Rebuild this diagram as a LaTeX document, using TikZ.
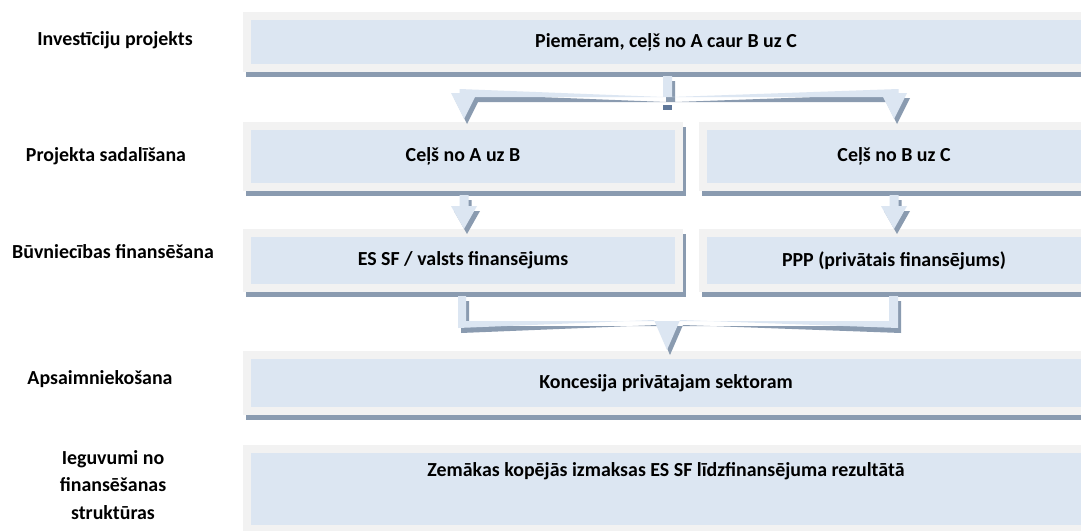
\documentclass[tikz,border=0pt]{standalone}
\usepackage{fontspec}
\setmainfont{Carlito}
\usetikzlibrary{shadows,calc}

\definecolor{framegray}{HTML}{F2F2F2}
\definecolor{boxblue}{HTML}{DCE6F2}
\definecolor{shade}{HTML}{8A9BB0}
\definecolor{joint}{HTML}{60789A}

\tikzset{
  stage/.style={rectangle, fill=boxblue, draw=framegray, line width=8pt,
    general shadow={fill=shade, draw=shade, line width=8pt,
      shadow xshift=3pt, shadow yshift=-5pt},
    align=center, text=black, inner sep=0pt},
  flat/.style={rectangle, fill=boxblue, draw=framegray, line width=8pt, inner sep=0pt},
  sidelabel/.style={align=center, text=black, inner sep=0pt},
  boxtext/.style={align=center, text=black, inner sep=0pt},
  arrowfill/.style={fill=boxblue,
    preaction={fill=shade, transform canvas={shift={(3pt,-5pt)}}}},
}

\begin{document}
\begin{tikzpicture}[x=1pt, y=-1pt,
  font=\bfseries\fontsize{19.9}{27.5}\selectfont]
\useasboundingbox (0,0) rectangle (1081,530);
\fill[white] (0,0) rectangle (1081,530);

% level captions on the left
\node[sidelabel] (l1) at (115,40)  {Investīciju projekts};
\node[sidelabel] (l2) at (106,156) {Projekta sadalīšana};
\node[sidelabel] (l3) at (113,252) {Būvniecības finansēšana};
\node[sidelabel] (l4) at (100,379) {Apsaimniekošana};
\node[sidelabel] (l5) at (113,485) {Ieguvumi no\\finansēšanas\\struktūras};

% stage boxes
\node[stage, minimum width=838, minimum height=52] (proj) at (666,42)
  {Piemēram, ceļš no A caur B uz C};
\node[stage, minimum width=432, minimum height=61] (partA) at (463,156.5)
  {Ceļš no A uz B};
\node[stage, minimum width=382, minimum height=61] (partB) at (894,156.5)
  {Ceļš no B uz C};
\node[stage, minimum width=432, minimum height=55] (finA) at (463,260.5)
  {ES SF / valsts finansējums};
\node[stage, minimum width=382, minimum height=55] (finB) at (894,260.5)
  {PPP (privātais finansējums)};
\node[stage, minimum width=838, minimum height=56] (ops) at (666,383)
  {Koncesija privātajam sektoram};
\node[flat, minimum width=838, minimum height=80] (gain) at (666,489) {};
\node[boxtext] (gaintext) at (666,471)
  {Zemākas kopējās izmaksas ES SF līdzfinansējuma rezultātā};

% split arrow: project -> both parts
\coordinate (A0) at ($(proj.south)+(1.5,0)$);
\coordinate (AL) at ($(partA.north)+(1,-3)$);
\coordinate (AR) at ($(partB.north)+(0,-3)$);
\fill[arrowfill]
  ($(A0)+(-4.5,4)$) -- ($(A0)+(-4.5,25)$) -- ($(AL)+(-4.5,-30)$)
  -- ($(AL)+(-4.5,-26)$) -- ($(AL)+(-13,-26)$) -- (AL)
  -- ($(AL)+(13,-26)$) -- ($(AL)+(4.5,-26)$) -- ($(AL)+(4.5,-22)$)
  -- ($(AR)+(-4.5,-22)$) -- ($(AR)+(-4.5,-26)$) -- ($(AR)+(-13,-26)$)
  -- (AR) -- ($(AR)+(13,-26)$) -- ($(AR)+(4.5,-26)$) -- ($(AR)+(4.5,-30)$)
  -- ($(A0)+(4.5,25)$) -- ($(A0)+(4.5,4)$) -- cycle;
\fill[joint] ($(A0)+(-4.5,33)$) rectangle ($(A0)+(4.5,38)$);

% part A -> financing A
\coordinate (B0) at ($(partA.south)+(1,4)$);
\coordinate (B1) at ($(finA.north)+(1,0)$);
\fill[arrowfill]
  ($(B0)+(-4.5,0)$) -- ($(B1)+(-4.5,-23)$) -- ($(B1)+(-13,-23)$) -- (B1)
  -- ($(B1)+(13,-23)$) -- ($(B1)+(4.5,-23)$) -- ($(B0)+(4.5,0)$) -- cycle;

% part B -> financing B
\coordinate (C0) at ($(partB.south)+(0,4)$);
\coordinate (C1) at ($(finB.north)+(0,0)$);
\fill[arrowfill]
  ($(C0)+(-4.5,0)$) -- ($(C1)+(-4.5,-23)$) -- ($(C1)+(-13,-23)$) -- (C1)
  -- ($(C1)+(13,-23)$) -- ($(C1)+(4.5,-23)$) -- ($(C0)+(4.5,0)$) -- cycle;

% both financing routes merge into the concession
\coordinate (D1) at ($(finA.south)+(-1,4)$);
\coordinate (D2) at ($(finB.south)+(-0.5,4)$);
\coordinate (D3) at ($(ops.north)+(1,-1)$);
\fill[arrowfill]
  ($(D1)+(-4,0)$) -- ($(D1)+(-4,32)$) -- ($(D3)+(-13,-30)$) -- (D3)
  -- ($(D3)+(13,-30)$) -- ($(D2)+(4.5,32)$) -- ($(D2)+(4.5,0)$)
  -- ($(D2)+(-4.5,0)$) -- ($(D2)+(-4.5,25)$) -- ($(D1)+(4,25)$)
  -- ($(D1)+(4,0)$) -- cycle;
\end{tikzpicture}
\end{document}
